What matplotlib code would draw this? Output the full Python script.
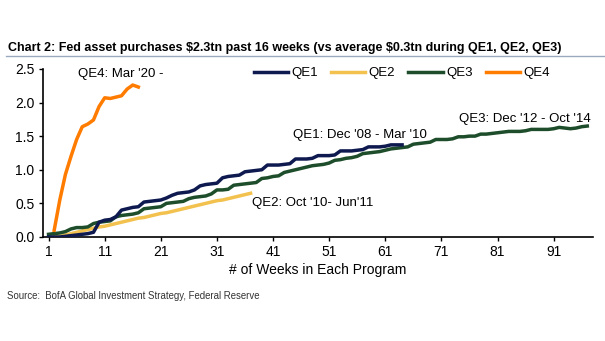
import matplotlib
matplotlib.use('Agg')
import matplotlib.pyplot as plt
from matplotlib.lines import Line2D

plt.rcParams['font.family'] = ['Liberation Sans', 'DejaVu Sans']

# cumulative Fed asset purchases ($tn) by week of each programme
qe1_weeks = list(range(1, 65))
qe1 = [0.0, 0.0, 0.0, 0.01, 0.02, 0.03, 0.04, 0.05, 0.07, 0.22,
       0.25, 0.26, 0.3, 0.4, 0.42, 0.44, 0.45, 0.52, 0.53, 0.54,
       0.55, 0.58, 0.62, 0.65, 0.66, 0.67, 0.7, 0.76, 0.78, 0.79,
       0.8, 0.88, 0.9, 0.91, 0.92, 0.97, 0.98, 0.99, 1.0, 1.07,
       1.07, 1.07, 1.08, 1.09, 1.16, 1.16, 1.16, 1.17, 1.21, 1.21,
       1.21, 1.22, 1.28, 1.28, 1.28, 1.29, 1.3, 1.34, 1.34, 1.34,
       1.35, 1.37, 1.37, 1.37]

qe2_weeks = list(range(2, 38))
qe2 = [0.0, 0.01, 0.03, 0.05, 0.07, 0.09, 0.11, 0.13, 0.15, 0.16,
       0.18, 0.2, 0.22, 0.24, 0.26, 0.28, 0.29, 0.31, 0.33, 0.35,
       0.36, 0.38, 0.4, 0.42, 0.44, 0.46, 0.48, 0.5, 0.52, 0.54,
       0.55, 0.57, 0.59, 0.61, 0.63, 0.65]

qe3_weeks = list(range(1, 98))
qe3 = [0.04, 0.05, 0.06, 0.08, 0.12, 0.14, 0.14, 0.15, 0.2, 0.22,
       0.23, 0.24, 0.3, 0.32, 0.33, 0.34, 0.36, 0.42, 0.43, 0.44,
       0.45, 0.5, 0.51, 0.52, 0.53, 0.57, 0.59, 0.6, 0.61, 0.64,
       0.7, 0.7, 0.71, 0.77, 0.78, 0.79, 0.8, 0.81, 0.87, 0.88,
       0.9, 0.91, 0.96, 0.98, 1.0, 1.02, 1.04, 1.06, 1.07, 1.08,
       1.1, 1.14, 1.15, 1.17, 1.18, 1.2, 1.24, 1.25, 1.26, 1.27,
       1.29, 1.31, 1.32, 1.33, 1.34, 1.38, 1.39, 1.4, 1.41, 1.45,
       1.45, 1.45, 1.46, 1.49, 1.49, 1.5, 1.5, 1.53, 1.53, 1.54,
       1.55, 1.56, 1.57, 1.57, 1.57, 1.58, 1.6, 1.6, 1.6, 1.6,
       1.61, 1.63, 1.62, 1.61, 1.62, 1.64, 1.65]

qe4_weeks = list(range(2, 18))
qe4 = [0.1, 0.55, 0.93, 1.2, 1.45, 1.64, 1.68, 1.74, 1.94, 2.07,
       2.06, 2.08, 2.1, 2.2, 2.26, 2.23]

x_ticks = [1, 11, 21, 31, 41, 51, 61, 71, 81, 91]
y_ticks = [0.0, 0.5, 1.0, 1.5, 2.0, 2.5]

c_qe1 = '#0e1a4f'
c_qe2 = '#f2c14e'
c_qe3 = '#1d4d2a'
c_qe4 = '#ff7c00'

fig = plt.figure(figsize=(6.05, 3.41), dpi=100)
ax = fig.add_axes([0.071, 0.305, 0.909, 0.493])

lw = 2.5
ax.plot(qe1_weeks, qe1, color=c_qe1, lw=lw, zorder=3)
ax.plot(qe2_weeks, qe2, color=c_qe2, lw=lw, zorder=2)
ax.plot(qe3_weeks, qe3, color=c_qe3, lw=lw, zorder=2)
ax.plot(qe4_weeks, qe4, color=c_qe4, lw=lw, zorder=4)

ax.set_xlim(0, 98)
ax.set_ylim(0, 2.5)
ax.set_xticks(x_ticks)
ax.set_yticks(y_ticks)
ax.set_yticklabels([f'{v:.1f}' for v in y_ticks])
ax.tick_params(labelsize=10, length=3, width=1, colors='black', direction='out', pad=3)
for s in ['top', 'right']:
    ax.spines[s].set_visible(False)
for s in ['left', 'bottom']:
    ax.spines[s].set_linewidth(1.2)
ax.set_xlabel('# of Weeks in Each Program', fontsize=10, labelpad=3)

handles = [Line2D([], [], color=c, lw=lw) for c in [c_qe1, c_qe2, c_qe3, c_qe4]]
ax.legend(handles, ['QE1', 'QE2', 'QE3', 'QE4'], ncol=4, frameon=False,
          fontsize=9.5, loc='center left', bbox_to_anchor=(0.383, 0.975),
          borderpad=0, borderaxespad=0,
          handlelength=2.6, handletextpad=0.25, columnspacing=1.0)

ax.text(6.3, 2.42, "QE4: Mar '20 -", fontsize=9.5, ha='left', va='center')
ax.text(44.5, 1.52, "QE1: Dec '08 - Mar '10", fontsize=9.5, ha='left', va='center')
ax.text(74.1, 1.76, "QE3: Dec '12 - Oct '14", fontsize=9.5, ha='left', va='center')
ax.text(37.2, 0.5, "QE2: Oct '10- Jun'11", fontsize=9.5, ha='left', va='center')

fig.text(0.013, 1 - 51.5 / 341,
         'Chart 2: Fed asset purchases \\$2.3tn past 16 weeks (vs average \\$0.3tn during QE1, QE2, QE3)',
         fontsize=9, fontweight='bold', ha='left', va='baseline')
fig.add_artist(Line2D([0.01, 1.0], [1 - 55.5 / 341, 1 - 55.5 / 341], color='#9aa9bd', lw=1))
fig.text(0.012, 1 - 296 / 341, 'Source:  BofA Global Investment Strategy, Federal Reserve',
         fontsize=6.9, color='#333333', ha='left', va='center')

fig.savefig('out.png', dpi=100)
